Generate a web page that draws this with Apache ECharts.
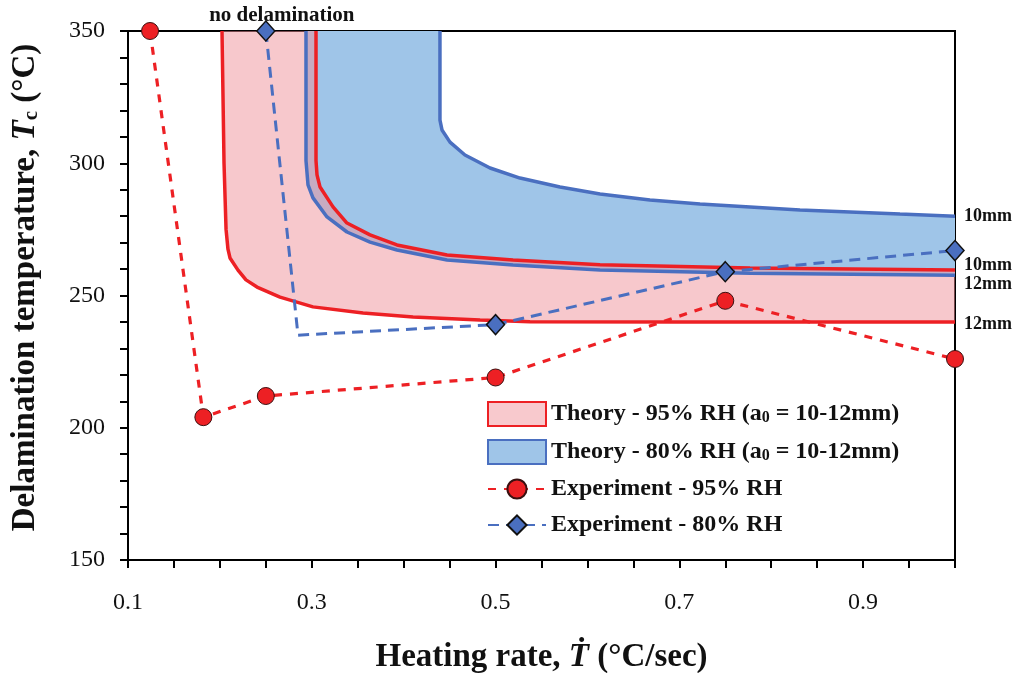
<!DOCTYPE html>
<html><head><meta charset="utf-8">
<script src="https://cdn.jsdelivr.net/npm/echarts@6/dist/echarts.min.js"></script>
<style>html,body{margin:0;padding:0;background:#fff}#c{width:1019px;height:673px}</style>
</head><body><div id="c"></div>
<script>
// Theory boundaries [heating rate, temperature]
const red12 = [[0.2023,350],[0.2045,300],[0.2067,275],[0.2088,267.5],[0.211,264.2],[0.2197,259.6],[0.2284,255.9],[0.2404,253.2],[0.2654,249.4],[0.3013,245.7],[0.3558,243.4],[0.4102,241.9],[0.4831,240.7],[0.5375,240.1],[0.7,240],[1.0,240]];
const red10 = [[0.3046,350],[0.3046,301],[0.3057,295.6],[0.309,291],[0.3231,283.5],[0.3383,277.4],[0.3634,272.9],[0.3927,269.1],[0.4472,265.3],[0.519,263.4],[0.6137,261.6],[0.7769,260.4],[1.0,259.6]];
const blue12 = [[0.2937,350],[0.2937,301],[0.2959,291.8],[0.3013,286.9],[0.3166,279.7],[0.3383,274],[0.3634,270.2],[0.3927,267.2],[0.4472,263.4],[0.519,261.5],[0.6137,259.6],[0.7769,258.4],[1.0,257.7]];
const blue10 = [[0.4395,350],[0.4395,316.3],[0.4417,312.6],[0.4504,308],[0.4667,303.1],[0.494,298.2],[0.5266,294.4],[0.5701,291],[0.6137,288.4],[0.668,286.1],[0.7225,284.6],[0.8313,282.3],[0.9401,280.8],[1.0,280]];
// Experiments
const exp95 = [[0.124,350],[0.182,204],[0.25,212],[0.5,219],[0.75,248],[1.0,226]];
const exp80 = [[0.25,350],[0.285,235],[0.5,239],[0.75,259],[1.0,267]];
const exp80Markers = [true,false,true,true,true];
// Labels
const xTickLabels = ['0.1','0.3','0.5','0.7','0.9'];
const yTickLabels = ['150','200','250','300','350'];
const endLabels = {red12:'12mm', red10:'10mm', blue12:'12mm', blue10:'10mm'};
const names = {
  t95:'Theory - 95% RH (a0 = 10-12mm)',
  t80:'Theory - 80% RH (a0 = 10-12mm)',
  e95:'Experiment - 95% RH',
  e80:'Experiment - 80% RH'
};
const noDelamText = 'no delamination';

const RED = '#ed2024', BLUE = '#4a6fc0';
const PINK = '#f8c9cd', LBLUE = '#9fc5e8';
const SERIF = '"Liberation Serif","Times New Roman",serif';

function band(name, outer, inner, fill, z) {
  return {
    type:'custom', name, coordinateSystem:'cartesian2d', data:[outer[0]], z, silent:true,
    itemStyle:{color:fill},
    renderItem:(params, api) => {
      const pts = outer.concat(inner.slice().reverse()).map(p => api.coord(p));
      return {type:'polygon', shape:{points:pts}, style:{fill:fill, stroke:null}};
    }
  };
}
function bound(data, color, label, dy) {
  return {
    type:'line', data, showSymbol:false, symbol:'none', z:5, clip:true, silent:true,
    lineStyle:{color, width:3.5}, itemStyle:{color},
    endLabel:{show:true, formatter:label, offset:[1,dy], color:'#111', fontFamily:SERIF, fontWeight:'bold', fontSize:18}
  };
}

const chart = echarts.init(document.getElementById('c'), null, {renderer:'canvas'});
chart.setOption({
  animation:false,
  backgroundColor:'#fff',
  grid:{left:128, right:64, top:31, bottom:113, show:true, borderColor:'#000', borderWidth:2, containLabel:false, outerBoundsMode:'none'},
  xAxis:{
    type:'value', min:0.1, max:1.0, interval:0.05,
    name:'Heating rate, {i|Ṫ} (°C/sec)', nameLocation:'middle', nameGap:81,
    nameTextStyle:{fontFamily:SERIF, fontWeight:'bold', fontSize:33, color:'#111',
      rich:{i:{fontFamily:SERIF, fontWeight:'bold', fontStyle:'italic', fontSize:33, color:'#111'}}},
    axisLine:{lineStyle:{color:'#000', width:2}},
    axisTick:{inside:false, length:8, lineStyle:{color:'#000', width:2}},
    axisLabel:{margin:31, fontFamily:SERIF, fontSize:24, color:'#111',
      formatter:v => { const s = v.toFixed(1); const k = Math.round(v*100); return (k % 20 === 10 && xTickLabels.includes(s)) ? s : ''; }},
    splitLine:{show:false}
  },
  yAxis:{
    type:'value', min:150, max:350, interval:10,
    name:'Delamination temperature, {i|T}{sub|c} (°C)', nameLocation:'middle', nameGap:86, nameRotate:90,
    nameTextStyle:{fontFamily:SERIF, fontWeight:'bold', fontSize:33, color:'#111', padding:[0,0,0,16],
      rich:{i:{fontFamily:SERIF, fontWeight:'bold', fontStyle:'italic', fontSize:33, color:'#111'},
            sub:{fontFamily:SERIF, fontWeight:'bold', fontSize:21, color:'#111', verticalAlign:'bottom', padding:[12,0,0,0]}}},
    axisLine:{lineStyle:{color:'#000', width:2}},
    axisTick:{inside:false, length:8, lineStyle:{color:'#000', width:2}},
    axisLabel:{margin:23, fontFamily:SERIF, fontSize:24, color:'#111',
      formatter:v => yTickLabels.includes(String(v)) ? String(v) : ''},
    splitLine:{show:false}
  },
  legend:{
    orient:'vertical', left:482, top:396, itemWidth:58, itemHeight:24, itemGap:12,
    textStyle:{fontFamily:SERIF, fontWeight:'bold', fontSize:24, lineHeight:24, color:'#111',
      rich:{sub:{fontFamily:SERIF, fontWeight:'bold', fontSize:16, color:'#111', verticalAlign:'bottom', padding:[10,0,0,0]}}},
    formatter:n => n.replace('(a0', '(a{sub|0}'),
    data:[
      {name:names.t95, icon:'rect', itemStyle:{color:PINK, borderColor:RED, borderWidth:2}},
      {name:names.t80, icon:'rect', itemStyle:{color:LBLUE, borderColor:BLUE, borderWidth:2}},
      {name:names.e95},
      {name:names.e80}
    ]
  },
  series:[
    band(names.t80, blue12, blue10, LBLUE, 1),
    band(names.t95, red12, red10, 'rgba(239,145,153,0.5)', 2),
    bound(red12, RED, endLabels.red12, 2),
    bound(blue12, BLUE, endLabels.blue12, 9),
    bound(red10, RED, endLabels.red10, -5),
    bound(blue10, BLUE, endLabels.blue10, 0),
    {
      type:'line', name:names.e95, data:exp95, z:8, clip:false,
      symbol:'circle', symbolSize:17,
      itemStyle:{color:RED, borderColor:'#3a1010', borderWidth:1},
      lineStyle:{color:RED, width:3.2, type:[8,8]}
    },
    {
      type:'line', name:names.e80, z:9, clip:false,
      data:exp80.map((p,i) => exp80Markers[i] ? (i===0 ? {value:p, label:{show:true, position:'top', distance:-1, offset:[16,5], formatter:noDelamText, fontFamily:SERIF, fontWeight:'bold', fontSize:21, color:'#111'}} : {value:p}) : {value:p, symbol:'none'}),
      symbol:'diamond', symbolSize:[18,20],
      itemStyle:{color:BLUE, borderColor:'#111', borderWidth:1.5},
      lineStyle:{color:BLUE, width:3, type:[11,7]}
    }
  ]
});
</script></body></html>
